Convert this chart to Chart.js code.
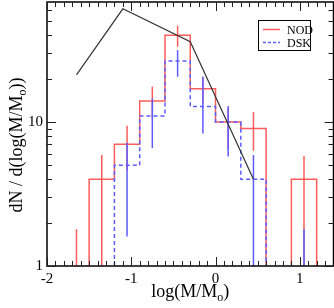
<!DOCTYPE html>
<html>
<head>
<meta charset="utf-8">
<script src="https://cdn.jsdelivr.net/npm/chart.js@4"></script>
<style>
  html, body { margin: 0; padding: 0; background: #fff; }
  #wrap { width: 334px; height: 308px; }
</style>
</head>
<body>
<div id="wrap"><canvas id="massChart" width="334" height="308"></canvas></div>
<script>
// histogram bin edges in log(M/Mo)
var binEdges = [-1.8, -1.5, -1.2, -0.9, -0.6, -0.3, 0, 0.3, 0.6, 0.9, 1.2];
var nodValues = [0, 4, 7, 14, 40, 17, 10, 9, 0, 4];
var dskValues = [0, 0, 5, 11, 26.5, 12.8, 10, 4, 0, 0];

// error bars, at bin centres (null = no bar)
var errCenters = [-1.65, -1.35, -1.05, -0.75, -0.45, -0.15, 0.15, 0.45, 0.75, 1.05];
var nodErrLow  = [0, 0, 4.6, 10.5, 33.3, 13.5, 6.5, 6.3, null, 0];
var nodErrHigh = [1.8, 5.9, 9.4, 17.6, 46.6, 20.6, 12.5, 11.7, null, 5.8];
var dskErrLow  = [null, null, 1.6, 6.6, 20.6, 8.3, 5.75, 0, null, 0];
var dskErrHigh = [null, null, 7.15, 14.5, 31.6, 20.6, 12.9, 5.9, null, 1.8];

// model curve (black)
var modelX = [-1.65, -1.1, -0.3, 0.45];
var modelY = [21.2, 61, 36, 4.0];

var xTickLabels = [-2, -1, 0, 1];
var yTickLabels = [1, 10];

var FLOOR = 0.3; // below the axis minimum, gets clipped away
var serif = "'Liberation Serif', 'Times New Roman', serif";

function histPoints(values) {
  var pts = [{x: binEdges[0], y: FLOOR}];
  for (var i = 0; i < values.length; i++) {
    pts.push({x: binEdges[i], y: values[i] > 0 ? values[i] : FLOOR});
  }
  pts.push({x: binEdges[binEdges.length - 1], y: FLOOR});
  return pts;
}

function errPoints(lo, hi) {
  var pts = [];
  for (var i = 0; i < errCenters.length; i++) {
    if (lo[i] === null) continue;
    pts.push({x: errCenters[i], y: lo[i] > 0 ? lo[i] : FLOOR});
    pts.push({x: errCenters[i], y: hi[i]});
    pts.push({x: errCenters[i], y: null});
  }
  return pts;
}

var red = '#ff5c5c';
var blue = '#5c5cff';

// frame, inward ticks, legend and axis titles
var framePlugin = {
  id: 'frame',
  afterDraw: function(chart) {
    var ctx = chart.ctx, a = chart.chartArea;
    var xs = chart.scales.x, ys = chart.scales.y;
    ctx.save();
    ctx.strokeStyle = '#000';
    ctx.lineWidth = 1.5;
    ctx.strokeRect(a.left, a.top, a.right - a.left, a.bottom - a.top);

    ctx.lineWidth = 1;
    ctx.strokeStyle = '#222';
    ctx.beginPath();
    xs.ticks.forEach(function(t) {
      var px = Math.round(xs.getPixelForValue(t.value)) + 0.5;
      var len = t.major ? 9 : 5;
      ctx.moveTo(px, a.bottom); ctx.lineTo(px, a.bottom - len);
      ctx.moveTo(px, a.top); ctx.lineTo(px, a.top + len);
    });
    ys.ticks.forEach(function(t) {
      var py = Math.round(ys.getPixelForValue(t.value)) + 0.5;
      var len = t.major ? 9 : 5;
      ctx.moveTo(a.left, py); ctx.lineTo(a.left + len, py);
      ctx.moveTo(a.right, py); ctx.lineTo(a.right - len, py);
    });
    ctx.stroke();

    // legend
    var lx = 258.5, ly = 20.5, lw = 52, lh = 30;
    ctx.fillStyle = '#fff';
    ctx.fillRect(lx, ly, lw, lh);
    ctx.strokeStyle = '#000';
    ctx.lineWidth = 1;
    ctx.strokeRect(lx, ly, lw, lh);
    ctx.lineWidth = 1.5;
    ctx.strokeStyle = red;
    ctx.beginPath(); ctx.moveTo(263, 29.5); ctx.lineTo(280, 29.5); ctx.stroke();
    ctx.strokeStyle = blue;
    ctx.setLineDash([3, 2]);
    ctx.beginPath(); ctx.moveTo(263, 42.5); ctx.lineTo(280, 42.5); ctx.stroke();
    ctx.setLineDash([]);
    ctx.fillStyle = '#000';
    ctx.font = '12px ' + serif;
    ctx.textBaseline = 'alphabetic';
    ctx.textAlign = 'left';
    ctx.fillText('NOD', 287, 34);
    ctx.fillText('DSK', 287, 47);

    // axis titles with subscript o
    drawSubTitle(ctx, ['log(M/M', 'o', ')'], (a.left + a.right) / 2, 297, 0);
    drawSubTitle(ctx, ['dN / d(log(M/M', 'o', '))'], 22, 145, -Math.PI / 2);
    ctx.restore();
  }
};

function drawSubTitle(ctx, parts, cx, cy, rot) {
  var big = '18px ' + serif, small = '12px ' + serif;
  ctx.save();
  ctx.translate(cx, cy);
  ctx.rotate(rot);
  ctx.font = big; var w0 = ctx.measureText(parts[0]).width;
  var w2 = ctx.measureText(parts[2]).width;
  ctx.font = small; var w1 = ctx.measureText(parts[1]).width;
  var x = -(w0 + w1 + w2) / 2;
  ctx.fillStyle = '#000';
  ctx.textAlign = 'left';
  ctx.textBaseline = 'alphabetic';
  ctx.font = big; ctx.fillText(parts[0], x, 0);
  ctx.font = small; ctx.fillText(parts[1], x + w0, 4);
  ctx.font = big; ctx.fillText(parts[2], x + w0 + w1, 0);
  ctx.restore();
}

var massChart = new Chart(document.getElementById('massChart').getContext('2d'), {
  type: 'line',
  data: {
    datasets: [
      {
        label: 'model',
        data: modelX.map(function(x, i) { return {x: x, y: modelY[i]}; }),
        borderColor: '#333',
        borderWidth: 1.2,
        pointRadius: 0
      },
      {
        label: 'DSK err',
        data: errPoints(dskErrLow, dskErrHigh),
        borderColor: blue,
        borderWidth: 1.5,
        pointRadius: 0,
        spanGaps: false
      },
      {
        label: 'DSK',
        data: histPoints(dskValues),
        borderColor: blue,
        borderWidth: 1.5,
        borderDash: [4, 3],
        stepped: 'before',
        pointRadius: 0
      },
      {
        label: 'NOD err',
        data: errPoints(nodErrLow, nodErrHigh),
        borderColor: red,
        borderWidth: 1.5,
        pointRadius: 0,
        spanGaps: false
      },
      {
        label: 'NOD',
        data: histPoints(nodValues),
        borderColor: red,
        borderWidth: 1.5,
        stepped: 'before',
        pointRadius: 0
      }
    ]
  },
  options: {
    responsive: false,
    animation: false,
    layout: { padding: { top: 2, right: 0.5, left: 0, bottom: 0 } },
    plugins: {
      legend: { display: false },
      tooltip: { enabled: false }
    },
    scales: {
      x: {
        type: 'linear',
        min: -2,
        max: 1.4,
        grid: { display: false, drawTicks: false },
        border: { display: false },
        afterBuildTicks: function(scale) {
          var t = [];
          for (var i = -20; i <= 14; i++) {
            t.push({value: i / 10, major: i % 10 === 0});
          }
          scale.ticks = t;
        },
        afterFit: function(scale) {
          scale.height = 42;
          scale.paddingLeft = 0; scale.paddingRight = 0;
        },
        ticks: {
          autoSkip: false,
          maxRotation: 0,
          padding: 4,
          color: '#000',
          font: { family: serif, size: 15 },
          callback: function(v) {
            var r = Math.round(v * 10) / 10;
            return xTickLabels.indexOf(r) >= 0 ? String(r) : '';
          }
        }
      },
      y: {
        type: 'logarithmic',
        min: 1,
        max: 68,
        grid: { display: false, drawTicks: false },
        border: { display: false },
        afterBuildTicks: function(scale) {
          var t = [];
          [1, 10].forEach(function(d) {
            for (var k = 1; k <= 9; k++) {
              if (k * d <= 68) t.push({value: k * d, major: k === 1});
            }
          });
          scale.ticks = t;
        },
        afterFit: function(scale) {
          scale.width = 47;
          scale.paddingTop = 0; scale.paddingBottom = 0;
        },
        ticks: {
          autoSkip: false,
          padding: 4,
          color: '#000',
          font: { family: serif, size: 15 },
          callback: function(v) {
            return yTickLabels.indexOf(v) >= 0 ? String(v) : '';
          }
        }
      }
    }
  },
  plugins: [framePlugin]
});
</script>
</body>
</html>
